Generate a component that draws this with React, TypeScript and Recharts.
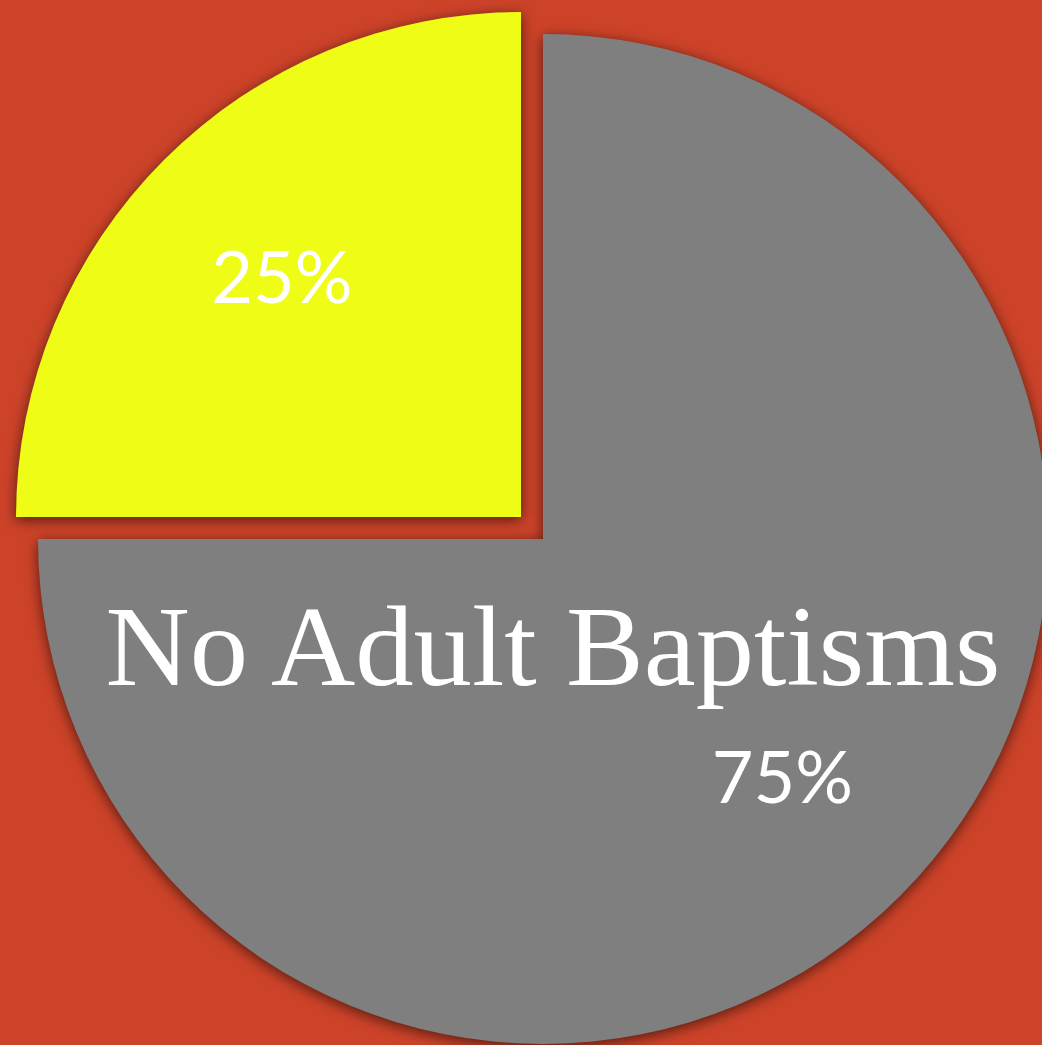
import { PieChart, Pie, Cell } from "recharts";

const names = ["Adult Baptisms", "No Adult Baptisms"];
const values = [25, 75];
const showName = [false, true];

const COLORS = ["#eefc16", "#7f7f7f"];
const BG = "#cd4329";
const RAD = Math.PI / 180;

const data = names.map((name, i) => ({ name, value: values[i] }));

// label for the slice this pie shows (the other slice is transparent)
function makeLabel(visibleIndex: number) {
  return (props: any) => {
    const { cx, cy, midAngle, outerRadius, percent, index, name } = props;
    if (index !== visibleIndex) return null;
    const r = outerRadius * 0.67;
    const x = cx + r * Math.cos(-midAngle * RAD);
    const y = cy + r * Math.sin(-midAngle * RAD);
    return (
      <g>
        {showName[index] && (
          <text
            x={cx + 10}
            y={cy + 146}
            textAnchor="middle"
            fill="#ffffff"
            fontFamily="'Liberation Serif', 'DejaVu Serif', serif"
            fontSize={114}
            textLength={895}
            lengthAdjust="spacingAndGlyphs"
          >
            {name}
          </text>
        )}
        <text
          x={x}
          y={y + 25}
          textAnchor="middle"
          fill="#ffffff"
          fontFamily="Lato, 'Open Sans', sans-serif"
          fontSize={72}
        >
          {`${Math.round(percent * 100)}%`}
        </text>
      </g>
    );
  };
}

export default function App() {
  return (
    <div
      style={{
        position: "absolute",
        left: 0,
        top: 0,
        width: 1042,
        height: 1045,
        background: BG,
        overflow: "hidden",
      }}
    >
      <div style={{ filter: "drop-shadow(0px 3px 7px rgba(0,0,0,0.6))" }}>
        <PieChart
          width={1042}
          height={1045}
          margin={{ top: 0, right: 0, bottom: 0, left: 0 }}
        >
          <Pie
            data={data}
            dataKey="value"
            cx={543}
            cy={539}
            outerRadius={505}
            startAngle={90}
            endAngle={450}
            stroke="none"
            labelLine={false}
            label={makeLabel(1)}
            isAnimationActive={false}
          >
            {data.map((d, i) => (
              <Cell key={d.name} fill={i === 1 ? COLORS[i] : "transparent"} />
            ))}
          </Pie>
          <Pie
            data={data}
            dataKey="value"
            cx={521}
            cy={517}
            outerRadius={505}
            startAngle={90}
            endAngle={450}
            stroke="none"
            labelLine={false}
            label={makeLabel(0)}
            isAnimationActive={false}
          >
            {data.map((d, i) => (
              <Cell key={d.name} fill={i === 0 ? COLORS[i] : "transparent"} />
            ))}
          </Pie>
        </PieChart>
      </div>
    </div>
  );
}
